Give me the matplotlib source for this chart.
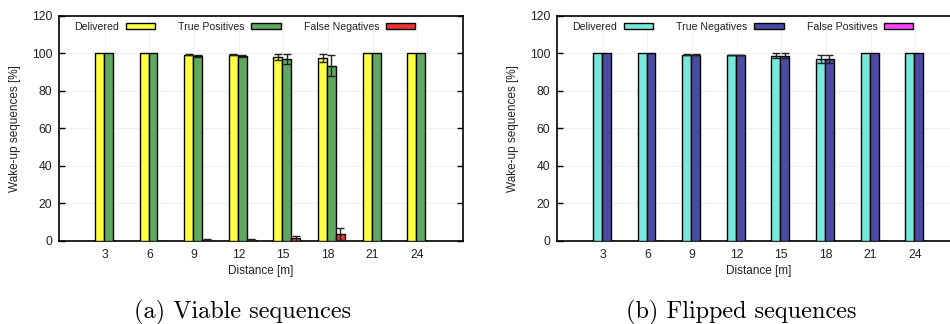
import matplotlib
matplotlib.use("Agg")
import matplotlib.pyplot as plt
import numpy as np

plt.rcParams['font.family'] = ['Liberation Sans', 'DejaVu Sans']

distances = ['3', '6', '9', '12', '15', '18', '21', '24']

# (a) viable sequences
viable_delivered = [100, 100, 99.2, 99.2, 98.0, 97.3, 100, 100]
viable_delivered_err = [0, 0, 0.3, 0.2, 1.6, 2.1, 0, 0]
true_positives = [100, 100, 98.5, 98.5, 96.8, 93.4, 100, 100]
true_positives_err = [0, 0, 0.5, 0.3, 2.8, 5.5, 0, 0]
false_negatives = [0, 0, 0.5, 0.5, 1.3, 3.7, 0, 0]
false_negatives_err = [0, 0, 0.2, 0.2, 1.3, 3.3, 0, 0]

# (b) flipped sequences
flipped_delivered = [100, 100, 99.2, 99.1, 98.6, 96.8, 100, 100]
flipped_delivered_err = [0, 0, 0.2, 0.2, 1.4, 2.2, 0, 0]
true_negatives = [100, 100, 99.2, 99.1, 98.6, 96.8, 100, 100]
true_negatives_err = [0, 0, 0.2, 0.2, 1.4, 2.2, 0, 0]
false_positives = [0, 0, 0, 0, 0, 0, 0, 0]
false_positives_err = [0, 0, 0, 0, 0, 0, 0, 0]

offsets = [-0.12, 0.08, 0.28]
width = 0.2


def panel(ax, series, errs, labels, colors, caption):
    x = np.arange(len(distances))
    for k in range(3):
        ax.bar(x + offsets[k], series[k], width, color=colors[k],
               edgecolor='black', linewidth=1.0, label=labels[k], zorder=3)
        e = np.array(errs[k])
        m = e > 0
        ax.errorbar(x[m] + offsets[k], np.array(series[k])[m], yerr=e[m],
                    fmt='none', ecolor='#222222', elinewidth=1.0,
                    capsize=3, capthick=1.0, zorder=4)
    ax.set_xlim(-1.02, 8.02)
    ax.set_ylim(0, 120)
    ax.set_yticks(range(0, 121, 20))
    ax.set_xticks(x)
    ax.set_xticklabels(distances)
    ax.grid(True, color='#f0f0f0', linewidth=0.8, zorder=0)
    ax.set_axisbelow(True)
    ax.tick_params(axis='y', direction='in', length=4, width=1,
                   right=True, labelsize=8.8, pad=5, labelcolor='#222222')
    ax.tick_params(axis='x', length=0, labelsize=8.8, pad=6, labelcolor='#222222')
    for s in ax.spines.values():
        s.set_linewidth(1.2)
    ax.set_xlabel('Distance [m]', fontsize=8.5, labelpad=3, color='#222222')
    ax.set_ylabel('Wake-up sequences [%]', fontsize=8.5, labelpad=8, color='#222222')
    ax.legend(loc='center left', bbox_to_anchor=(0.038, 0.95), ncol=3,
              frameon=False, markerfirst=False, prop={'size': 7.6},
              handlelength=2.8, handleheight=0.55, handletextpad=0.6,
              columnspacing=2.2, borderpad=0, borderaxespad=0,
              labelcolor='#222222')
    pos = ax.get_position()
    ax.figure.text(pos.x0 + 0.4246 * 0.455, 0.035, caption, ha='center',
                   va='center', fontsize=17.5, family='cmr10')


fig = plt.figure(figsize=(9.5, 3.24), dpi=100)
ax1 = fig.add_axes([0.0624, 0.257, 0.4246, 0.6944])
ax2 = fig.add_axes([0.5866, 0.257, 0.4246, 0.6944])

panel(ax1, [viable_delivered, true_positives, false_negatives],
      [viable_delivered_err, true_positives_err, false_negatives_err],
      ['Delivered', 'True Positives', 'False Negatives'],
      ['#ffff44', '#5fa85f', '#ee3333'], '(a) Viable sequences')
panel(ax2, [flipped_delivered, true_negatives, false_positives],
      [flipped_delivered_err, true_negatives_err, false_positives_err],
      ['Delivered', 'True Negatives', 'False Positives'],
      ['#78e8dc', '#4b4ba3', '#ff44ff'], '(b) Flipped sequences')

fig.savefig('out.png', dpi=100)
